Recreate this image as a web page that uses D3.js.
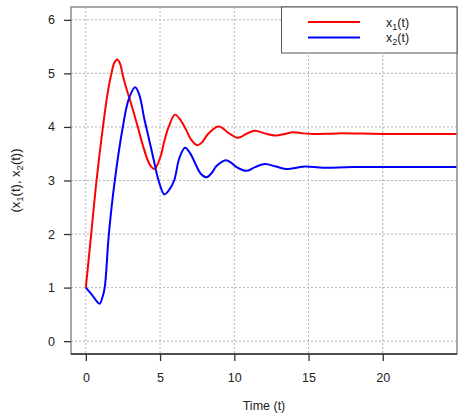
<!DOCTYPE html>
<html><head><meta charset="utf-8">
<script src="https://cdn.jsdelivr.net/npm/d3@7"></script>
<style>body{margin:0;background:#fff}svg{display:block;font-family:"Liberation Sans",Arial,sans-serif}</style>
</head><body><svg id="c" width="464" height="420"></svg>
<script>
const xTicks = [0, 5, 10, 15, 20];
const yTicks = [0, 1, 2, 3, 4, 5, 6];
const x1T = [0,0.36,0.72,1.15,1.45,1.7,1.92,2.12,2.32,2.5,2.75,3.0,3.5,3.9,4.3,4.62,5.0,5.3,5.58,6.0,6.4,6.75,7.1,7.5,7.85,8.2,8.88,9.2,9.55,10.2,10.5,10.8,11.4,12.05,12.8,13.4,13.95,14.6,15.3,17,20,25.5];
const x1V = [1,2,3,4,4.6,4.97,5.2,5.26,5.17,4.95,4.7,4.48,4.0,3.6,3.3,3.215,3.42,3.75,4.0,4.23,4.12,3.95,3.76,3.66,3.72,3.86,4.01,3.98,3.9,3.80,3.82,3.87,3.93,3.88,3.84,3.87,3.90,3.88,3.87,3.88,3.87,3.87];
const x2T = [0,0.4,0.92,1.12,1.27,1.55,1.95,2.49,2.89,3.32,3.6,3.94,4.3,4.6,4.9,5.29,5.6,5.95,6.3,6.68,7.0,7.4,7.75,8.14,8.5,8.8,9.43,9.8,10.1,10.8,11.4,12.06,12.8,13.6,14.2,14.75,16,18,25.5];
const x2V = [1,0.87,0.70,0.82,1.0,2.0,3.0,4.0,4.52,4.74,4.6,4.15,3.72,3.35,3.0,2.74,2.82,3.0,3.42,3.61,3.52,3.3,3.12,3.06,3.15,3.27,3.38,3.33,3.26,3.18,3.25,3.31,3.26,3.215,3.24,3.26,3.24,3.25,3.25];
const series = [
  {name:"1", color:"#ff0000", t:x1T, v:x1V},
  {name:"2", color:"#0000ff", t:x2T, v:x2V}
];
const L=71, R=457, T=7, B=354;
const svg = d3.select("#c");
const x = d3.scaleLinear().domain([-1,25]).range([L,R]);
const y = d3.scaleLinear().domain([-0.24,6.24]).range([B,T]);
svg.append("defs").append("clipPath").attr("id","clip").append("rect")
  .attr("x",L).attr("y",T).attr("width",R-L).attr("height",B-T);
const g = svg.append("g");
// grid
g.selectAll(".gx").data(xTicks).join("line").attr("x1",d=>x(d)).attr("x2",d=>x(d))
  .attr("y1",T).attr("y2",B).attr("stroke","#b5b5b5").attr("stroke-dasharray","2,2");
g.selectAll(".gy").data(yTicks).join("line").attr("y1",d=>y(d)).attr("y2",d=>y(d))
  .attr("x1",L).attr("x2",R).attr("stroke","#b5b5b5").attr("stroke-dasharray","2,2");
// lines
const line = d3.line().curve(d3.curveCatmullRom.alpha(0.5));
series.forEach(s=>{
  g.append("path").attr("clip-path","url(#clip)")
   .attr("d", line(s.t.map((t,i)=>[x(t), y(s.v[i])])))
   .attr("fill","none").attr("stroke",s.color).attr("stroke-width",2);
});
// box
svg.append("rect").attr("x",L).attr("y",T).attr("width",R-L).attr("height",B-T)
  .attr("fill","none").attr("stroke","#8a8a8a").attr("stroke-width",1.5);
svg.append("line").attr("x1",L).attr("x2",R).attr("y1",B).attr("y2",B).attr("stroke","#333").attr("stroke-width",1.5);
// axes
const xa = svg.append("g").attr("transform",`translate(0,${B})`)
  .call(d3.axisBottom(x).tickValues(xTicks).tickSize(7).tickPadding(12).tickFormat(d3.format("d")));
xa.select(".domain").remove();
const ya = svg.append("g").attr("transform",`translate(${L},0)`)
  .call(d3.axisLeft(y).tickValues(yTicks).tickSize(7).tickPadding(9).tickFormat(d3.format("d")));
ya.select(".domain").remove();
svg.selectAll(".tick line").attr("stroke","#333").attr("stroke-width",1.3);
svg.selectAll(".tick text").attr("font-size",12.5).attr("fill","#222").attr("font-family","Liberation Sans, Arial, sans-serif");
// axis titles
svg.append("text").attr("x",(L+R)/2).attr("y",410).attr("text-anchor","middle")
  .attr("font-size",12.5).attr("fill","#222").text("Time (t)");
const yl = svg.append("text").attr("transform",`translate(20,${(T+B)/2}) rotate(-90)`)
  .attr("text-anchor","middle").attr("font-size",13).attr("fill","#222");
yl.append("tspan").text("(x");
yl.append("tspan").attr("font-size",9.5).attr("dy",3).text("1");
yl.append("tspan").attr("dy",-3).text("(t), x");
yl.append("tspan").attr("font-size",9.5).attr("dy",3).text("2");
yl.append("tspan").attr("dy",-3).text("(t))");
// legend
svg.append("rect").attr("x",281.5).attr("y",T).attr("width",R-281.5).attr("height",46)
  .attr("fill","#fff").attr("stroke","#555").attr("stroke-width",1);
series.forEach((s,i)=>{
  const yy = 22 + i*15.5;
  svg.append("line").attr("x1",308).attr("x2",360).attr("y1",yy).attr("y2",yy)
    .attr("stroke",s.color).attr("stroke-width",2);
  const t = svg.append("text").attr("x",386).attr("y",yy+4.5).attr("font-size",12.5).attr("fill","#222");
  t.append("tspan").text("x");
  t.append("tspan").attr("font-size",9).attr("dy",3).text(s.name);
  t.append("tspan").attr("dy",-3).text("(t)");
});
</script></body></html>
